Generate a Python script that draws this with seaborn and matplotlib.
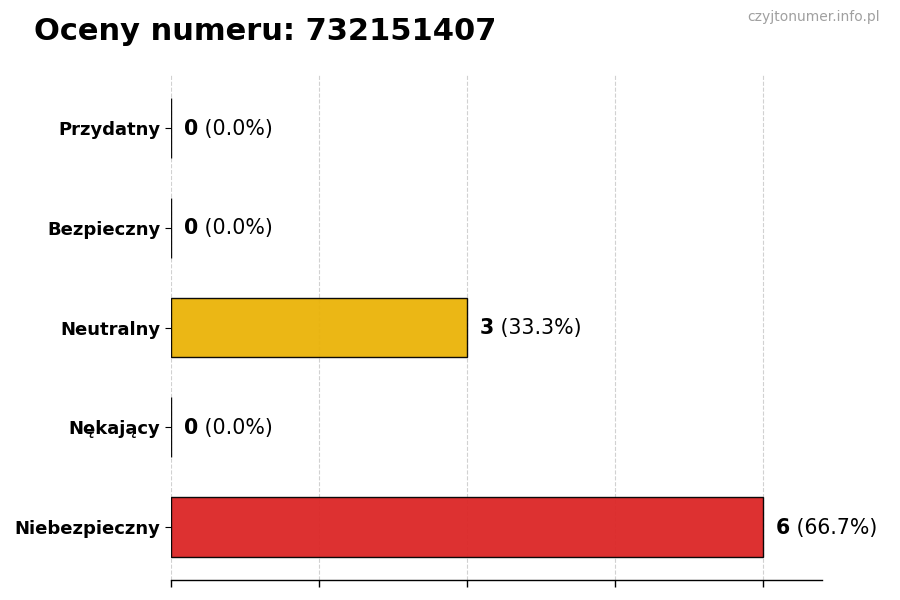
import matplotlib
matplotlib.use("Agg")
import matplotlib.pyplot as plt
import seaborn as sns
import pandas as pd

categories = ["Przydatny", "Bezpieczny", "Neutralny", "Nękający", "Niebezpieczny"]
counts = [0, 0, 3, 0, 6]
percents = ["0.0%", "0.0%", "33.3%", "0.0%", "66.7%"]
bar_colors = ["#16A34A", "#2563EB", "#EAB308", "#EA580C", "#DC2626"]
title = "Oceny numeru: 732151407"
watermark = "czyjtonumer.info.pl"

sns.set_theme(style="white")
plt.rcParams["font.family"] = ["DejaVu Sans"]

df = pd.DataFrame({"cat": categories, "count": counts})

fig = plt.figure(figsize=(9, 6), dpi=100)
ax = fig.add_axes([0.19, 0.0333, 0.723, 0.8417])

sns.barplot(data=df, x="count", y="cat", hue="cat", palette=bar_colors,
            order=categories, hue_order=categories, orient="h",
            edgecolor="black", linewidth=1.0, alpha=0.95, width=0.6,
            saturation=1, legend=False, ax=ax)

ax.set_xlim(0, 6.6)
ax.set_ylim(4.53, -0.53)
ax.set_xticks([0, 1.5, 3, 4.5, 6])
ax.set_xticklabels([])
ax.set_xlabel("")
ax.set_ylabel("")
ax.set_axisbelow(True)
ax.grid(axis="x", linestyle="--", color="#cccccc", linewidth=0.8, alpha=0.9)
ax.grid(axis="y", visible=False)
for s in ["top", "right", "left"]:
    ax.spines[s].set_visible(False)
ax.spines["bottom"].set_color("black")
ax.spines["bottom"].set_linewidth(1.0)
ax.tick_params(axis="x", which="both", bottom=True, length=5, width=1, color="black")
ax.tick_params(axis="y", which="both", left=True, length=4, width=0.8, color="black", pad=3.5)
for lab in ax.get_yticklabels():
    lab.set_fontweight("bold")
    lab.set_fontsize(13)
    lab.set_color("black")

for i, (c, p) in enumerate(zip(counts, percents)):
    t = ax.annotate(str(c), xy=(c, i), xytext=(9.5, -0.5), textcoords="offset points",
                    ha="left", va="center", fontsize=14.8, fontweight="bold", color="black")
    ax.annotate(f" ({p})", xy=(1, 0), xycoords=t, ha="left", va="bottom",
                fontsize=14.8, color="black")

fig.text(34 / 900, 1 - 31 / 600, title, fontsize=22, fontweight="bold",
         ha="left", va="center", color="black")
fig.text(880 / 900, 1 - 17.5 / 600, watermark, fontsize=10, color="#a0a0a0",
         ha="right", va="center")

fig.savefig("out.png", dpi=100)
